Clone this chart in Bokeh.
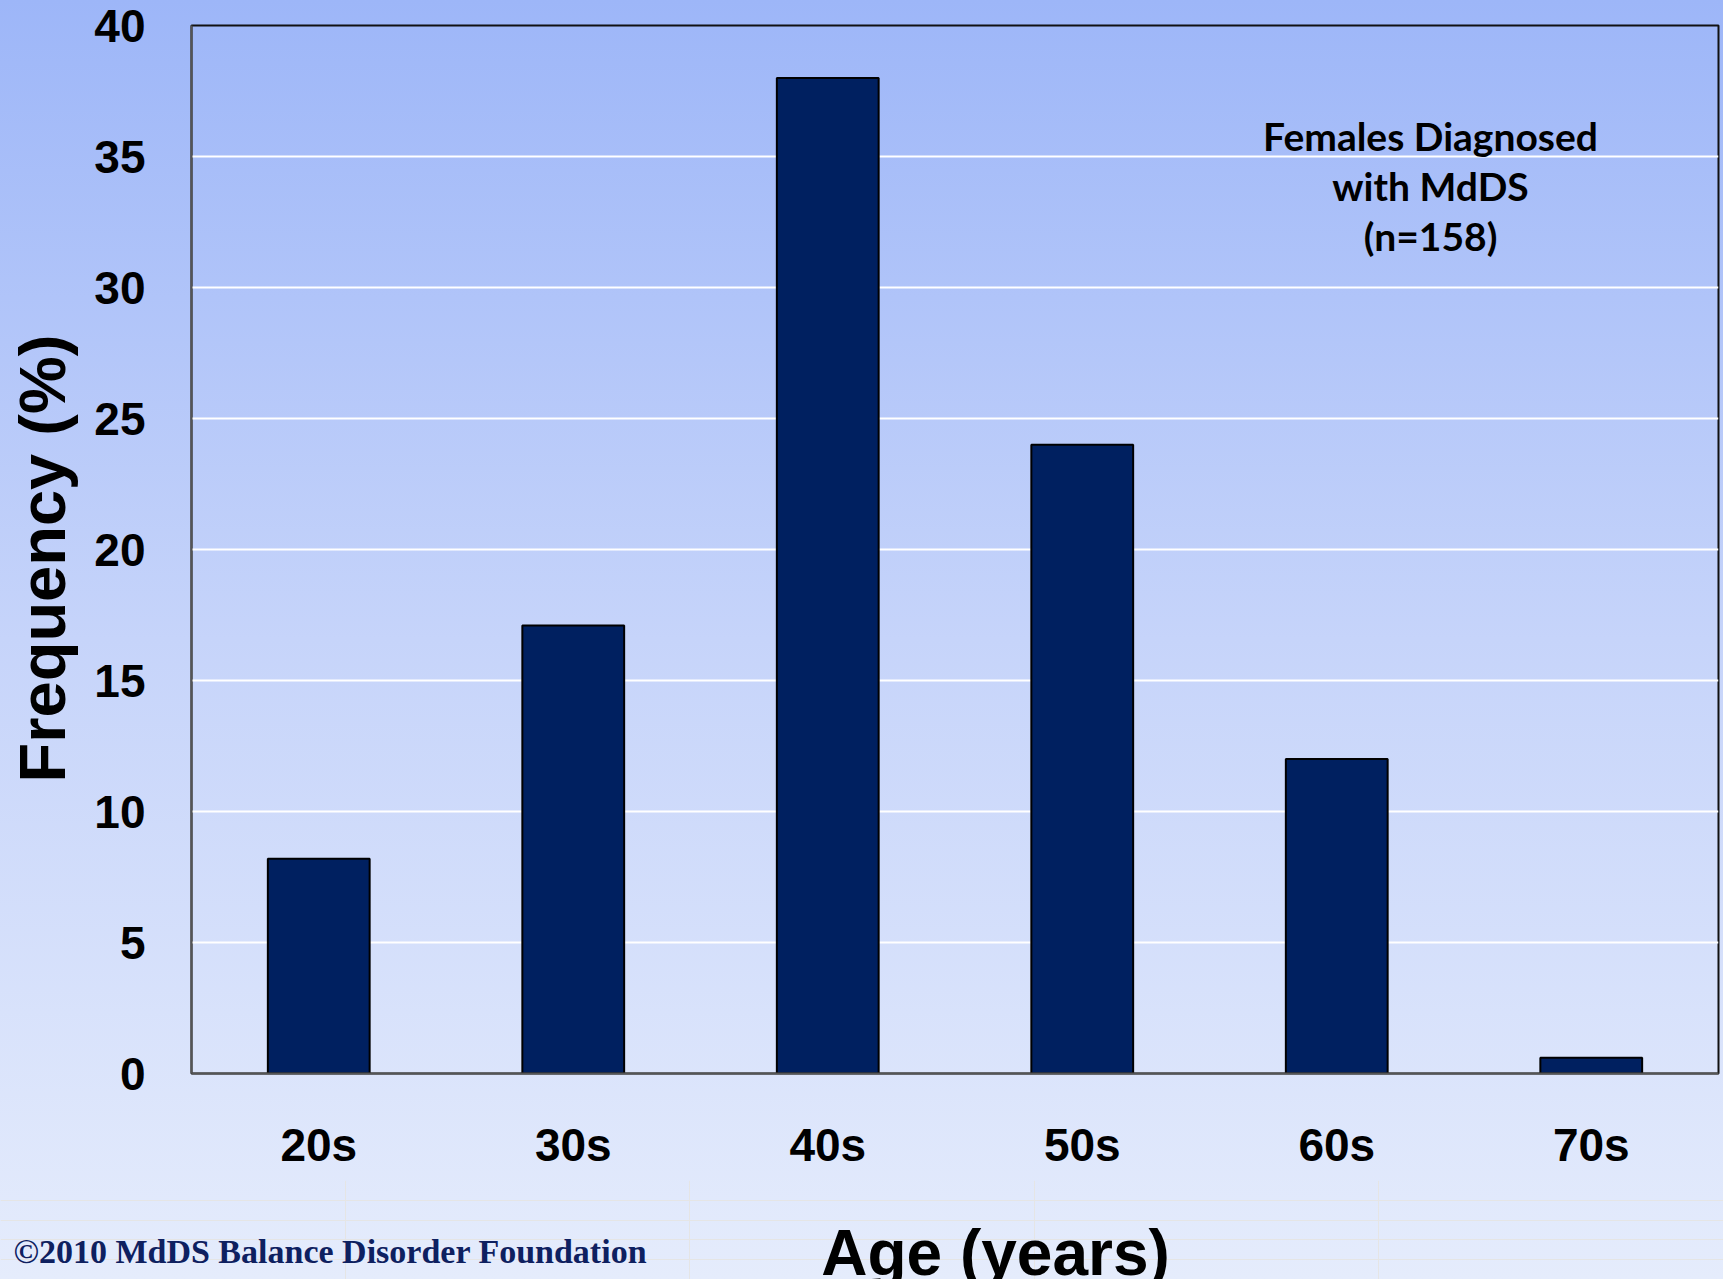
from bokeh.plotting import figure
from bokeh.models import Label, Range1d
from bokeh.layouts import column
from bokeh.embed import file_html
from bokeh.resources import INLINE

# ---- data ----
categories = ["20s", "30s", "40s", "50s", "60s", "70s"]
frequency = [8.2, 17.1, 38.0, 24.0, 12.0, 0.6]
y_ticks = [0, 5, 10, 15, 20, 25, 30, 35, 40]
y_title = "Frequency  (%)"
x_title = "Age (years)"
note_lines = ["Females Diagnosed", "with MdDS", "(n=158)"]
credit = "\u00a92010 MdDS Balance Disorder Foundation"

W, H_MAIN, H_FOOT = 1723, 1180, 99

p = figure(x_range=categories, y_range=Range1d(0, 40), width=W, height=H_MAIN,
           output_backend="svg", toolbar_location=None,
           min_border_left=191, min_border_right=5, min_border_top=25,
           min_border_bottom=107)
p.frame_align = False
p.background_fill_alpha = 0
p.border_fill_alpha = 0
p.outline_line_color = "#111111"
p.outline_line_width = 2

p.vbar(x=categories, top=frequency, width=0.4, fill_color="#002060",
       line_color="black", line_width=2)

p.xgrid.grid_line_color = None
p.ygrid.grid_line_color = "white"
p.ygrid.grid_line_width = 2

p.yaxis.ticker = y_ticks
for ax in (p.xaxis, p.yaxis):
    ax.axis_line_color = "#555555"
    ax.axis_line_width = 2
    ax.major_tick_line_color = None
    ax.minor_tick_line_color = None
    ax.major_label_text_font = "Liberation Sans"
    ax.major_label_text_font_style = "bold"
    ax.major_label_text_font_size = "46px"
    ax.major_label_text_color = "black"

p.yaxis.major_label_standoff = 40
p.xaxis.major_label_standoff = 39

p.yaxis.axis_label = y_title
p.yaxis.axis_label_text_font = "Liberation Sans"
p.yaxis.axis_label_text_font_style = "bold"
p.yaxis.axis_label_text_font_size = "65px"
p.yaxis.axis_label_text_color = "black"
p.yaxis.axis_label_standoff = 12

# note inside the plot area (positions relative to the frame, y up from its bottom)
for i, line in enumerate(note_lines):
    p.add_layout(Label(x=1239, y=938 - 50 * i, x_units="screen", y_units="screen",
                       text=line, text_align="center", text_baseline="alphabetic",
                       text_font="Lato", text_font_style="bold",
                       text_font_size="39px", text_color="black"))

# footer strip holding the x title and the credit line
foot = figure(width=W, height=H_FOOT, x_range=Range1d(0, 1), y_range=Range1d(0, 1),
              x_axis_location=None, y_axis_location=None, min_border=0,
              output_backend="svg", toolbar_location=None)
foot.frame_align = False
foot.background_fill_alpha = 0
foot.border_fill_alpha = 0
foot.outline_line_color = None

foot.add_layout(Label(x=995, y=27, x_units="screen", y_units="screen", text=x_title,
                      text_align="center", text_baseline="alphabetic",
                      text_font="Liberation Sans", text_font_style="bold",
                      text_font_size="64px", text_color="black"))
foot.add_layout(Label(x=13, y=28, x_units="screen", y_units="screen", text=credit,
                      text_align="left", text_baseline="alphabetic",
                      text_font="Liberation Serif", text_font_style="bold",
                      text_font_size="34px", text_color="#0e2060"))

page = column(p, foot, spacing=0)
page.styles = {"background": "linear-gradient(180deg, #9db6f8 0%, #c6d4fa 50%, #e5ecfc 100%)"}

open("out.html", "w").write(file_html(page, INLINE))
